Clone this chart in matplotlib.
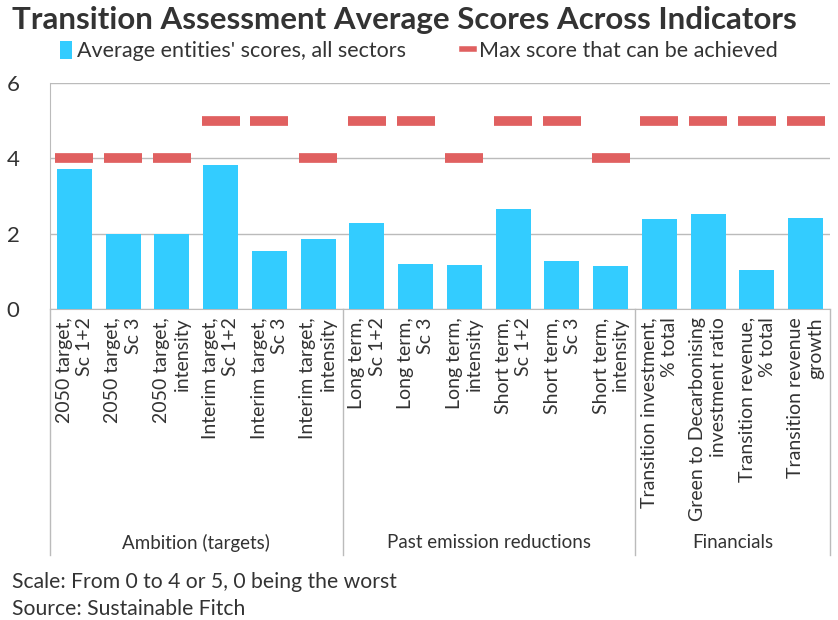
import matplotlib
matplotlib.use("Agg")
import matplotlib.pyplot as plt
import matplotlib.transforms as mtransforms
from matplotlib.lines import Line2D
from matplotlib.patches import Patch

plt.rcParams['font.family'] = ['Lato', 'DejaVu Sans']

labels = ["2050 target,\nSc 1+2", "2050 target,\nSc 3", "2050 target,\nintensity",
          "Interim target,\nSc 1+2", "Interim target,\nSc 3", "Interim target,\nintensity",
          "Long term,\nSc 1+2", "Long term,\nSc 3", "Long term,\nintensity",
          "Short term,\nSc 1+2", "Short term,\nSc 3", "Short term,\nintensity",
          "Transition investment,\n% total", "Green to Decarbonising\ninvestment ratio",
          "Transition revenue,\n% total", "Transition revenue\ngrowth"]
avg_scores = [3.72, 2.0, 2.0, 3.83, 1.53, 1.86,
              2.28, 1.19, 1.17, 2.65, 1.27, 1.13,
              2.38, 2.53, 1.04, 2.41]
max_scores = [4, 4, 4, 5, 5, 4,
              5, 5, 4, 5, 5, 4,
              5, 5, 5, 5]
groups = ["Ambition (targets)", "Past emission reductions", "Financials"]
group_sizes = [6, 6, 4]

blue = '#33CCFF'
red = '#E06060'
txt = '#333333'
grid = '#BBBBBB'

fig = plt.figure(figsize=(8.38, 6.2), dpi=100)
ax = fig.add_axes([50/838, 1-309/620, 780/838, 226/620])

x = list(range(len(labels)))
ax.bar(x, avg_scores, width=0.72, color=blue, zorder=3)
ax.hlines(max_scores, [i - 0.39 for i in x], [i + 0.39 for i in x],
          colors=red, linewidth=7, zorder=4)

ax.set_xlim(-0.5, len(labels) - 0.5)
ax.set_ylim(0, 6)
ax.set_yticks([0, 2, 4, 6])
ax.yaxis.grid(True, color=grid, linewidth=1)
ax.set_axisbelow(True)
for s in ['top', 'right']:
    ax.spines[s].set_visible(False)
for s in ['left', 'bottom']:
    ax.spines[s].set_color(grid)
ax.tick_params(axis='y', length=0, labelsize=16, colors=txt, pad=22)
ax.tick_params(axis='x', length=0, pad=6)
ax.set_xticks(x)
ax.set_xticklabels(labels, rotation=90, ha='center', va='top',
                   multialignment='right', fontsize=14, color=txt,
                   linespacing=1.25)

# group separators and names
trans = mtransforms.blended_transform_factory(ax.transData, ax.transAxes)
low = -(555 - 309) / 226
edge = -0.5
ax.plot([edge, edge], [0, low], color=grid, lw=1, transform=trans, clip_on=False)
for g, n in zip(groups, group_sizes):
    ax.text(edge + n / 2, -(543 - 309) / 226, g, transform=trans,
            ha='center', va='center', fontsize=13.5, color=txt)
    edge += n
    ax.plot([edge, edge], [0, low], color=grid, lw=1, transform=trans, clip_on=False)

fig.text(12/838, 1-20/620, "Transition Assessment Average Scores Across Indicators",
         fontsize=22.5, fontweight='bold', color=txt, va='center', ha='left')

handles = [Patch(facecolor=blue, edgecolor='none'),
           Line2D([0], [0], color=red, lw=4)]
fig.legend(handles, ["Average entities' scores, all sectors", "Max score that can be achieved"],
           loc='center', bbox_to_anchor=(0.5, 1-51/620), ncol=2, frameon=False,
           fontsize=15.5, handlelength=0.55, handleheight=0.9, handletextpad=0.25,
           columnspacing=2.6, labelcolor=txt)

fig.text(12/838, 1-582/620, "Scale: From 0 to 4 or 5, 0 being the worst",
         fontsize=15.2, color=txt, va='center')
fig.text(12/838, 1-609/620, "Source: Sustainable Fitch",
         fontsize=15.2, color=txt, va='center')

fig.savefig("out.png", dpi=100)
